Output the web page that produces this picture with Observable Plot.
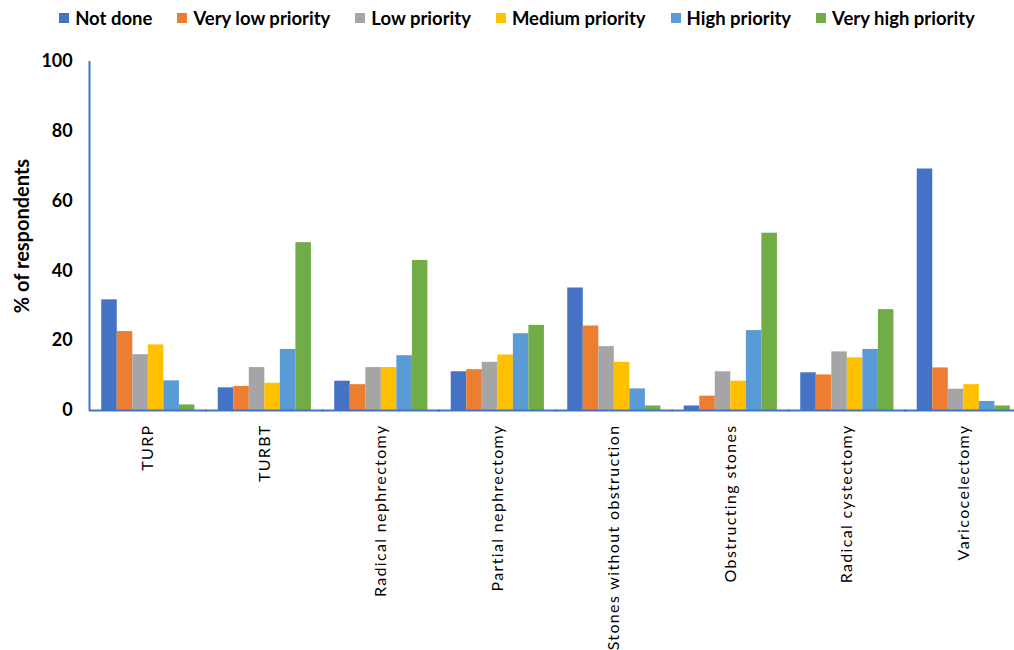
<!DOCTYPE html>
<html>
<head>
<meta charset="utf-8">
<script src="https://cdn.jsdelivr.net/npm/d3@7"></script>
<script src="https://cdn.jsdelivr.net/npm/@observablehq/plot@0.6"></script>
<style>
  html, body { margin: 0; padding: 0; background: #fff; }
  #legend { height: 36px; display: flex; align-items: center; justify-content: center; gap: 25px;
    font-family: Lato, "Open Sans", sans-serif; font-weight: bold; font-size: 18.5px; color: #000; padding-left: 20px; }
  #legend .item { display: flex; align-items: center; }
  #legend .sw { width: 10px; height: 10px; margin-right: 6px; }
  #chart svg g[aria-label*="fx-axis"] text { letter-spacing: 1.35px; }
</style>
</head>
<body>
<div id="legend"></div>
<div id="chart"></div>
<script>
const categories = ["TURP", "TURBT", "Radical nephrectomy", "Partial nephrectomy",
  "Stones without obstruction", "Obstructing stones", "Radical cystectomy", "Varicocelectomy"];
const series = ["Not done", "Very low priority", "Low priority", "Medium priority", "High priority", "Very high priority"];
const notDone  = [31.7, 6.5, 8.4, 11.1, 35.1, 1.3, 10.8, 69.2];
const veryLow  = [22.6, 6.9, 7.4, 11.7, 24.2, 4.1, 10.2, 12.2];
const low      = [16.0, 12.3, 12.3, 13.8, 18.3, 11.1, 16.8, 6.1];
const medium   = [18.8, 7.8, 12.3, 15.9, 13.8, 8.4, 15.1, 7.4];
const high     = [8.5, 17.5, 15.7, 22.0, 6.2, 22.9, 17.5, 2.6];
const veryHigh = [1.6, 48.1, 43.0, 24.4, 1.3, 50.8, 28.9, 1.3];
const yTicks = [0, 20, 40, 60, 80, 100];
const colors = ["#4472C4", "#ED7D31", "#A5A5A5", "#FFC000", "#5B9BD5", "#70AD47"];

const seriesValues = [notDone, veryLow, low, medium, high, veryHigh];
const table = [];
categories.forEach((c, i) => {
  series.forEach((s, j) => table.push({category: c, series: s, value: seriesValues[j][i]}));
});

// legend
const legend = document.getElementById("legend");
series.forEach((s, j) => {
  const it = document.createElement("div");
  it.className = "item";
  it.innerHTML = `<span class="sw" style="background:${colors[j]}"></span><span>${s}</span>`;
  legend.appendChild(it);
});

const axisBlue = "#4472C4";
const chart = Plot.plot({
  width: 1014,
  height: 614,
  marginLeft: 89,
  marginRight: 0,
  marginTop: 25,
  marginBottom: 240,
  style: {fontFamily: "Lato, sans-serif", color: "#000", background: "#fff"},
  fx: {domain: categories, paddingInner: 0.2, paddingOuter: 0.07, align: 0.75, round: false, label: null},
  x: {domain: series, axis: null, padding: 0, round: false},
  y: {domain: [0, 100], axis: null},
  color: {domain: series, range: colors},
  marks: [
    Plot.barY(table, {fx: "category", x: "series", y: "value", fill: "series"}),
    Plot.ruleY([0], {stroke: axisBlue, strokeWidth: 2, insetLeft: -12.5, insetRight: -12.5}),
    Plot.ruleX([{category: categories[0], series: series[0]}],
      {fx: "category", x: "series", y1: 0, y2: 100, stroke: axisBlue, strokeWidth: 2, dx: -20}),
    Plot.axisY({ticks: yTicks, tickSize: 0, tickPadding: 29, fontSize: 18, fontWeight: "bold",
      label: null}),
    Plot.axisY({ticks: [], tickSize: 0, fontSize: 20, fontWeight: "bold",
      label: "% of respondents", labelAnchor: "center", labelArrow: "none", labelOffset: 87}),
    Plot.axisFx({anchor: "bottom", tickRotate: -90, tickSize: 0, tickPadding: 14, fontSize: 16,
      label: null})
  ]
});
document.getElementById("chart").appendChild(chart);
</script>
</body>
</html>
